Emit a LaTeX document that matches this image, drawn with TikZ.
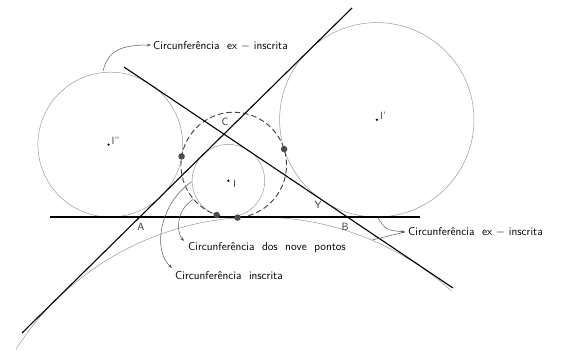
\documentclass[tikz,border=0pt]{standalone}
\usetikzlibrary{arrows.meta,calc}
\begin{document}
\begin{tikzpicture}[x=1pt,y=-1pt,
  side/.style={black,line width=1.1pt},
  circ/.style={gray!80,line width=0.5pt},
  ninept/.style={black!75,line width=0.9pt,dash pattern=on 5.5pt off 3pt},
  note/.style={black!65,line width=0.5pt,-{Stealth[length=4pt,width=3pt]}},
  tdot/.style={circle,fill=black!70,inner sep=0pt,minimum size=6.5pt},
  cdot/.style={circle,fill=black,inner sep=0pt,minimum size=2.5pt},
  lbl/.style={font=\sffamily\fontsize{10.5}{12}\selectfont,inner sep=0pt},
  txt/.style={font=\sffamily\fontsize{11.5}{13}\selectfont,inner sep=0pt,anchor=west}]
\useasboundingbox (0,0) rectangle (562,353);
% key points
\coordinate (A) at (140,217);
\coordinate (B) at (347,217);
\coordinate (C) at (224,134);
\coordinate (I) at (228.4,180.7);
\coordinate (Ia) at (376.8,119.8);
\coordinate (Ib) at (108.5,144.6);
\coordinate (Ic) at (258.6,505.8);
\coordinate (N) at (233.75,165);
% line ends
\coordinate (ABl) at (50,217);
\coordinate (ABr) at (420,217);
\coordinate (ACl) at (22,333);
\coordinate (ACr) at (352,8);
\coordinate (BCl) at (124,67);
\coordinate (BCr) at (453,288);
% circles
\draw[circ] (I) circle[radius=36.3pt];
\draw[circ] (Ia) circle[radius=97.2pt];
\draw[circ] (110.3,144.6) circle[radius=72.4pt];
\draw[circ] (Ic) ++(147.2:288.8pt) arc[start angle=147.2,end angle=48.1,radius=288.8pt];
\draw[ninept] (N) circle[radius=52.8pt];
% sides
\draw[side] (ABl) -- (ABr);
\draw[side] (ACl) -- (ACr);
\draw[side] (BCl) -- (BCr);
% tangency points
\node[tdot] (F1) at (216.7,215.0) {};
\node[tdot] (F2) at (237.6,217.6) {};
\node[tdot] (F3) at (181.6,156.4) {};
\node[tdot] (F4) at (284.1,149.1) {};
% centres
\node[cdot] (dI) at (I) {};
\node[cdot] (dIa) at (Ia) {};
\node[cdot] (dIb) at (Ib) {};
\node[lbl,text=black!70,anchor=west] (lI) at (233,184) {I};
\node[lbl,text=black!70,anchor=west] (lIa) at (380,116) {I'};
\node[lbl,text=black!70,anchor=west] (lIb) at (111.5,141) {I''};
\node[lbl,text=black!80] (lA) at (141,227) {A};
\node[lbl,text=black!80] (lB) at (345,227) {B};
\node[lbl,text=black!80] (lC) at (225,122) {C};
\node[lbl,text=black!80] (lY) at (318,205) {Y};
% annotations
\node[txt] (t1) at (153,46) {Circunferência\ \ ex $-$ inscrita};
\node[txt] (t2) at (408,232) {Circunferência\ \ ex $-$ inscrita};
\node[txt] (t3) at (188,248) {Circunferência\ \ dos\ \ nove\ \ pontos};
\node[txt] (t4) at (175,276) {Circunferência\ \ inscrita};
\coordinate (s1) at (103,71);
\coordinate (e1) at (151,45);
\draw[note] (s1) .. controls (108,50) and (122,45) .. (e1);
\coordinate (s2) at (378,218);
\coordinate (s2b) at (372,240);
\coordinate (e2) at (405,232);
\draw[note] (s2) .. controls (386,230) .. (e2);
\draw[black!65,line width=0.5pt] (s2b) -- (e2);
\coordinate (s3) at (193.3,199.3);
\coordinate (e3) at (184,241);
\draw[note] (s3) .. controls (176,210) and (176,232) .. (e3);
\coordinate (s4) at (191.7,181.7);
\coordinate (e4) at (172,268);
\draw[note] (s4) .. controls (160,203) and (152,250) .. (e4);
\end{tikzpicture}
\end{document}
